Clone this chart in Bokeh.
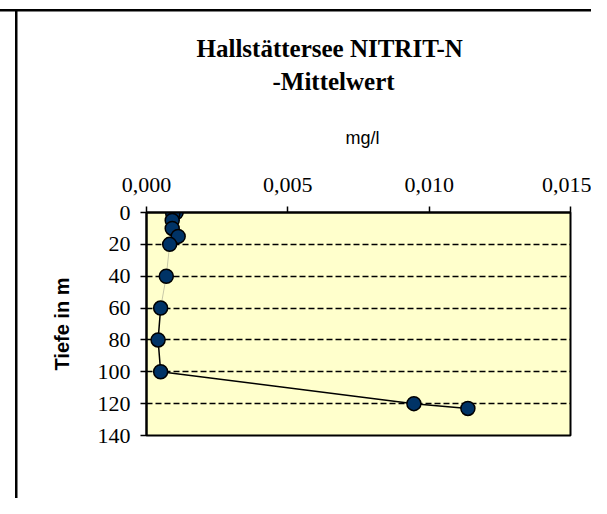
from bokeh.plotting import figure
from bokeh.models import Range1d, FixedTicker, Title, ColumnDataSource
from bokeh.embed import file_html
from bokeh.resources import INLINE

# ---- data ----
title_lines = ["Hallstättersee NITRIT-N", "-Mittelwert"]
x_axis_title = "mg/l"
y_axis_title = "Tiefe in m"

depth_m = [0, 1, 5, 10, 15, 20, 40, 60, 80, 100, 120, 123]
nitrit_mg_l = [0.00105, 0.00093, 0.00091, 0.00091, 0.00112, 0.00082,
               0.00070, 0.00050, 0.00041, 0.00050, 0.00946, 0.01137]

x_ticks = [0.0, 0.005, 0.010, 0.015]
x_tick_labels = ["0,000", "0,005", "0,010", "0,015"]
y_ticks = [0, 20, 40, 60, 80, 100, 120, 140]
y_tick_labels = ["0", "20", "40", "60", "80", "100", "120", "140"]
grid_levels = [20, 40, 60, 80, 100, 120, 140]

X0, X1 = 0.0, 0.015
Y0, Y1 = 0, 140

# ---- layout ----
W, H = 591, 498
FL, FR, FT, FB = 146, 570, 212, 435  # frame edges in px

p = figure(width=W, height=H, output_backend="svg", toolbar_location=None,
           x_range=Range1d(X0, X1), y_range=Range1d(Y1, Y0),
           x_axis_location="above",
           min_border_left=FL, min_border_right=W - FR,
           min_border_top=FT, min_border_bottom=H - FB)

p.background_fill_color = "#FFFFCC"
p.border_fill_color = "white"
p.border_fill_alpha = 0.0
p.outline_line_color = "black"
p.outline_line_width = 2

# worksheet cell borders (drawn behind the transparent canvas border)
p.styles = {
    "background-color": "white",
    "background-image": "linear-gradient(black, black), linear-gradient(black, black)",
    "background-size": "100% 2.5px, 2.5px 100%",
    "background-position": "0px 9px, 15px 9px",
    "background-repeat": "no-repeat",
}

# axes
xa = p.xaxis[0]
xa.ticker = FixedTicker(ticks=x_ticks)
xa.major_label_overrides = {t: l for t, l in zip(x_ticks, x_tick_labels)}
ya = p.yaxis[0]
ya.ticker = FixedTicker(ticks=y_ticks)
ya.major_label_overrides = {t: l for t, l in zip(y_ticks, y_tick_labels)}
ya.axis_label = y_axis_title
ya.axis_label_text_font = "Liberation Sans"
ya.axis_label_text_font_style = "bold"
ya.axis_label_text_font_size = "20px"
ya.axis_label_standoff = 22
for ax in (xa, ya):
    ax.axis_label_text_color = "black"
    ax.major_label_text_font = "Liberation Serif"
    ax.major_label_text_font_size = "22px"
    ax.major_label_text_color = "black"
    ax.axis_line_color = "black"
    ax.axis_line_width = 2
    ax.major_tick_line_color = "black"
    ax.major_tick_line_width = 1.5
    ax.major_tick_out = 6
    ax.major_tick_in = 0
    ax.minor_tick_line_color = None
xa.major_label_standoff = 15
ya.major_label_standoff = 10

# stacked texts above the axis (closest first): unit, title line 2, title line 1
p.add_layout(Title(text=x_axis_title, align="left", offset=199,
                   text_font="Liberation Sans", text_font_style="normal",
                   text_font_size="18px", text_color="black", standoff=54),
             "above")
p.add_layout(Title(text=title_lines[1], align="left", offset=126,
                   text_font="Liberation Serif", text_font_style="bold",
                   text_font_size="25px", text_color="black", standoff=8),
             "above")
p.title.text = title_lines[0]
p.title.align = "left"
p.title.offset = 50
p.title.text_font = "Liberation Serif"
p.title.text_font_style = "bold"
p.title.text_font_size = "25px"
p.title.text_color = "black"
p.title.standoff = 0

p.xgrid.visible = False
p.ygrid.ticker = FixedTicker(ticks=grid_levels)
p.ygrid.grid_line_color = "black"
p.ygrid.grid_line_width = 1.5
p.ygrid.grid_line_dash = "6 3"

# series
split = depth_m.index(60)
src_top = ColumnDataSource(dict(x=nitrit_mg_l[:split + 1], y=depth_m[:split + 1]))
src_bot = ColumnDataSource(dict(x=nitrit_mg_l[split:], y=depth_m[split:]))
src_all = ColumnDataSource(dict(x=nitrit_mg_l, y=depth_m))
p.line("x", "y", source=src_top, line_color="#C8C8A8", line_width=1)
p.line("x", "y", source=src_bot, line_color="black", line_width=1.5)
p.scatter("x", "y", source=src_all, marker="circle", size=14,
          fill_color="#003366", line_color="black", line_width=1.5)

open("out.html", "w").write(file_html(p, INLINE))
